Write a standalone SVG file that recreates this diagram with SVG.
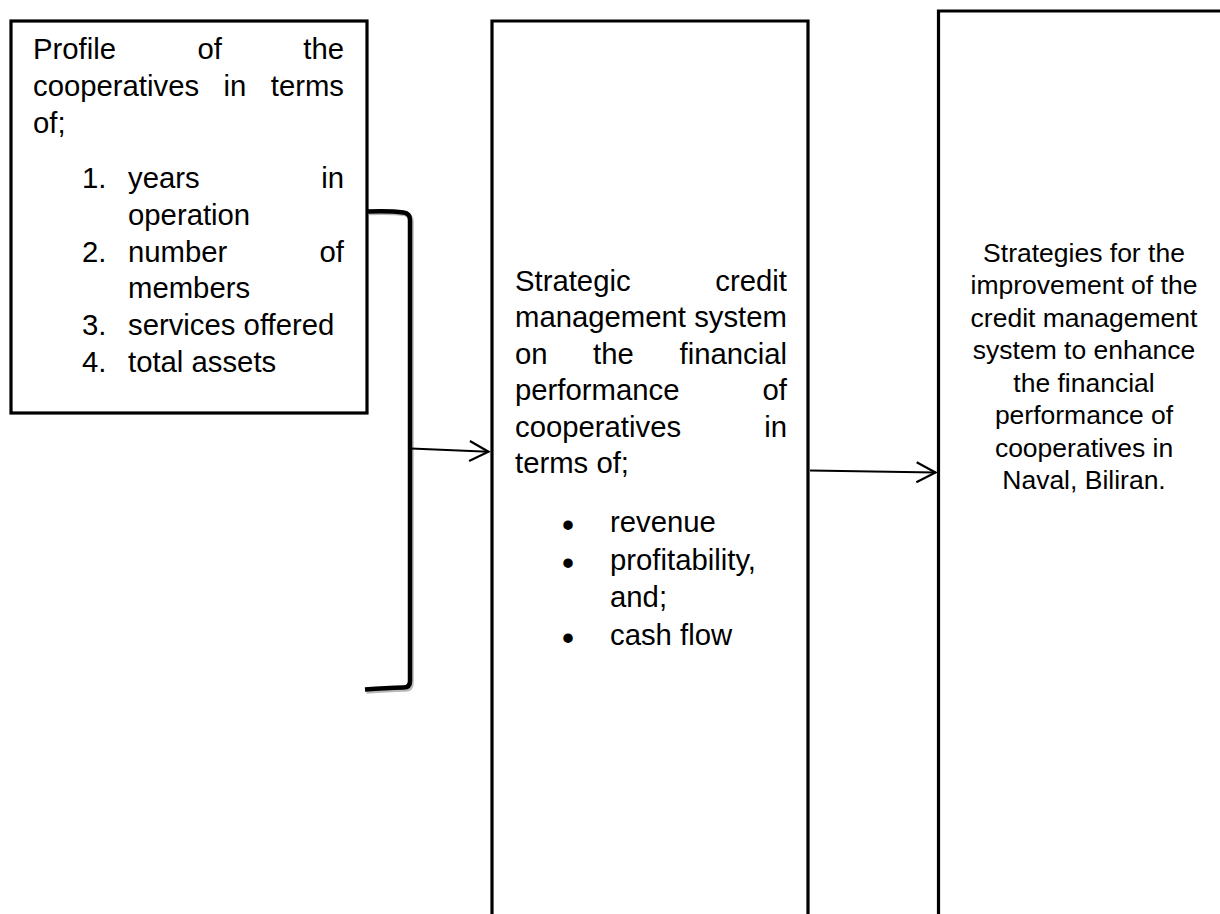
<svg xmlns="http://www.w3.org/2000/svg" width="1220" height="914" viewBox="0 0 1220 914">
<style>
  .box { fill: #ffffff; stroke: #000000; stroke-width: 3.2; }
  .t { font-family: "Liberation Sans", Arial, sans-serif; font-size: 29.3px; fill: #000000; }
  .tr { font-family: "Liberation Sans", Arial, sans-serif; font-size: 26.5px; fill: #000000; text-anchor: middle; }
  .e { text-anchor: end; }
  .bm { font-family: "Liberation Sans", Arial, sans-serif; font-size: 33px; font-weight: bold; fill: #000000; text-anchor: middle; }
  .conn { fill: none; stroke: #000000; stroke-width: 2; }
  .brk { fill: none; stroke: #000000; stroke-width: 4.5; stroke-linejoin: round; stroke-linecap: butt; }
  .brks { fill: none; stroke: #9a9a9a; stroke-width: 4.5; stroke-linejoin: round; opacity: 0.7; }
</style>
<defs>
  <marker id="open" markerUnits="userSpaceOnUse" markerWidth="24" markerHeight="24" viewBox="-2 -12 24 24" refX="19" refY="0" orient="auto">
    <path d="M0,-10 L19,0 L0,10" fill="none" stroke="#000000" stroke-width="2.2" stroke-linejoin="miter"/>
  </marker>
</defs>
<rect width="1220" height="914" fill="#ffffff"/>

<g id="node-profile">
  <rect class="box" x="11" y="21" width="356" height="392"/>
  <text class="t" x="33" y="59.3">Profile</text>
  <text class="t" x="197.5" y="59.3">of</text>
  <text class="t e" x="344" y="59.3">the</text>
  <text class="t" x="33" y="96">cooperatives</text>
  <text class="t" x="223.5" y="96">in</text>
  <text class="t e" x="344" y="96">terms</text>
  <text class="t" x="33" y="132.7">of;</text>
  <text class="t" x="82" y="188.3">1.</text>
  <text class="t" x="128" y="188.3">years</text>
  <text class="t e" x="344" y="188.3">in</text>
  <text class="t" x="128" y="225">operation</text>
  <text class="t" x="82" y="261.7">2.</text>
  <text class="t" x="128" y="261.7">number</text>
  <text class="t e" x="344" y="261.7">of</text>
  <text class="t" x="128" y="298.3">members</text>
  <text class="t" x="82" y="335">3.</text>
  <text class="t" x="128" y="335">services offered</text>
  <text class="t" x="82" y="371.7">4.</text>
  <text class="t" x="128" y="371.7">total assets</text>
</g>

<g id="node-strategic">
  <path class="box" d="M492,930 L492,21 L808,21 L808,930"/>
  <text class="t" x="515" y="291">Strategic</text>
  <text class="t e" x="787" y="291">credit</text>
  <text class="t" x="515" y="327.4">management system</text>
  <text class="t" x="515" y="363.8">on</text>
  <text class="t" x="593" y="363.8">the</text>
  <text class="t e" x="787" y="363.8">financial</text>
  <text class="t" x="515" y="400.2">performance</text>
  <text class="t e" x="787" y="400.2">of</text>
  <text class="t" x="515" y="436.6">cooperatives</text>
  <text class="t e" x="787" y="436.6">in</text>
  <text class="t" x="515" y="473">terms of;</text>
  <text class="bm" x="568" y="536">•</text>
  <text class="t" x="610" y="532">revenue</text>
  <text class="bm" x="568" y="574">•</text>
  <text class="t" x="610" y="570">profitability,</text>
  <text class="t" x="610" y="607">and;</text>
  <text class="bm" x="568" y="649">•</text>
  <text class="t" x="610" y="645">cash flow</text>
</g>

<g id="node-strategies">
  <path class="box" d="M938.5,930 L938.5,11 L1240,11"/>
  <text class="tr" x="1084" y="261.7">Strategies for the</text>
  <text class="tr" x="1084" y="294.2">improvement of the</text>
  <text class="tr" x="1084" y="326.7">credit management</text>
  <text class="tr" x="1084" y="359.2">system to enhance</text>
  <text class="tr" x="1084" y="391.7">the financial</text>
  <text class="tr" x="1084" y="424.2">performance of</text>
  <text class="tr" x="1084" y="456.7">cooperatives in</text>
  <text class="tr" x="1084" y="489.2">Naval, Biliran.</text>
</g>

<g id="connectors">
  <path class="brks" d="M368.5,213 Q392,212 405,214 Q411.5,215 411.5,222 L411.5,683 Q411.5,689.5 405,689.5 Q388,690 366.5,691.5"/>
  <path class="brk" d="M367,211.5 Q390,210.5 403.5,212.5 Q410,213.5 410,220 L410,681 Q410,687.5 403.5,687.5 Q386,688 365,689.5"/>
  <path class="conn" d="M411,448.5 L488.5,451.7" marker-end="url(#open)"/>
  <path class="conn" d="M810,470.5 L935.5,472.5" marker-end="url(#open)"/>
</g>
</svg>
